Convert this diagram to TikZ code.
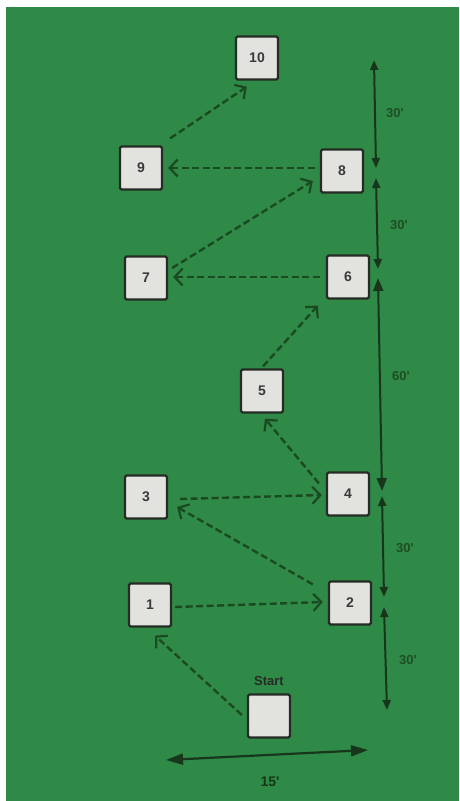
\documentclass[tikz,border=0pt]{standalone}
\usepackage{fontspec}
\setmainfont{Liberation Sans}
\usetikzlibrary{arrows.meta}
\definecolor{bg}{HTML}{2F8A47}
\definecolor{boxfill}{HTML}{E2E3DF}
\definecolor{boxline}{HTML}{262B26}
\definecolor{numcol}{HTML}{3A3A3A}
\definecolor{dashcol}{HTML}{1B4A22}
\definecolor{dimcol}{HTML}{17361B}
\definecolor{dimtext}{HTML}{1E4E26}
\tikzset{
  stn/.style={draw=boxline, fill=boxfill, line width=2.3pt, minimum width=42pt, minimum height=43pt,
    inner sep=0pt, rounded corners=1.5pt, text=numcol, font=\bfseries\fontsize{14}{14}\selectfont},
  runarrow/.style={draw=dashcol, line width=2.4pt, dash pattern=on 7pt off 3.5pt,
    -{Straight Barb[length=8pt,width=17pt,line width=2.2pt]}},
  dimline/.style={draw=dimcol, line width=2pt, {Triangle[length=10pt,width=8pt]}-{Triangle[length=10pt,width=8pt]}},
  dimlab/.style={text=dimtext, font=\bfseries\fontsize{13}{13}\selectfont, inner sep=0pt},
}
\begin{document}
\begin{tikzpicture}[x=1pt,y=-1pt]
\useasboundingbox (0,0) rectangle (460,801);
\fill[white] (0,0) rectangle (460,801);
\fill[bg] (6,7) rectangle (459,801);

\node[stn] (b10) at (257,58) {10};
\node[stn] (b9) at (141,168) {9};
\node[stn] (b8) at (342,171) {8};
\node[stn] (b7) at (146,278) {7};
\node[stn] (b6) at (348,277) {6};
\node[stn] (b5) at (262,391) {5};
\node[stn] (b3) at (146,497) {3};
\node[stn] (b4) at (348,494) {4};
\node[stn] (b1) at (150,605) {1};
\node[stn] (b2) at (350,603) {2};
\node[stn] (bs) at (269,716) {};
\node[text=boxline, font=\bfseries\fontsize{13}{13}\selectfont, anchor=south] (lstart) at ([shift={(0,-4)}]bs.north) {Start};

% running path
\draw[runarrow] ([shift={(-5,-1)}]bs.west) -- ([shift={(5,8)}]b1.south);
\draw[runarrow] ([shift={(3,2)}]b1.east) -- ([shift={(-5,-1)}]b2.west);
\draw[runarrow] ([shift={(-15,4)}]b2.north west) -- ([shift={(9,10)}]b3.east);
\draw[runarrow] ([shift={(12,2)}]b3.east) -- ([shift={(-4,1)}]b4.west);
\draw[runarrow] ([shift={(-7,12)}]b4.north west) -- ([shift={(3,5)}]b5.south);
\draw[runarrow] ([shift={(1,-2)}]b5.north) -- ([shift={(-8,6)}]b6.south west);
\draw[runarrow] ([shift={(-6,0)}]b6.west) -- ([shift={(5,-1)}]b7.east);
\draw[runarrow] ([shift={(4,-10)}]b7.east) -- ([shift={(-7,10)}]b8.west);
\draw[runarrow] ([shift={(-5,-3)}]b8.west) -- ([shift={(5,0)}]b9.east);
\draw[runarrow] ([shift={(7,-7)}]b9.north east) -- ([shift={(12,6)}]b10.south west);

% dimension line
\coordinate (d0) at (374,60);
\coordinate (d1a) at (376,168);
\coordinate (d1b) at (376,178);
\coordinate (d2a) at (378,269);
\coordinate (d2b) at (378,278);
\coordinate (d3a) at (382,491);
\coordinate (d3b) at (382,496);
\coordinate (d4a) at (384,597);
\coordinate (d4b) at (384,607);
\coordinate (d5) at (387,710);
\draw[dimline] (d0) -- (d1a);
\draw[dimline] (d1b) -- (d2a);
\draw[dimline, {Triangle[length=13pt,width=10pt]}-{Triangle[length=13pt,width=10pt]}] (d2b) -- (d3a);
\draw[dimline] (d3b) -- (d4a);
\draw[dimline] (d4b) -- (d5);
\node[dimlab] (l1) at (395,113) {30\textquotesingle};
\node[dimlab] (l2) at (399,225) {30\textquotesingle};
\node[dimlab] (l3) at (401,376) {60\textquotesingle};
\node[dimlab] (l4) at (405,548) {30\textquotesingle};
\node[dimlab] (l5) at (408,660) {30\textquotesingle};

% width
\coordinate (w0) at (166,760);
\coordinate (w1) at (368,750);
\draw[draw=dimcol, line width=2.2pt, {Triangle[length=17pt,width=11pt]}-{Triangle[length=17pt,width=11pt]}] (w0) -- (w1);
\node[dimlab, text=dimcol, font=\bfseries\fontsize{14}{14}\selectfont] (lw) at (270,782) {15\textquotesingle};
\end{tikzpicture}
\end{document}
